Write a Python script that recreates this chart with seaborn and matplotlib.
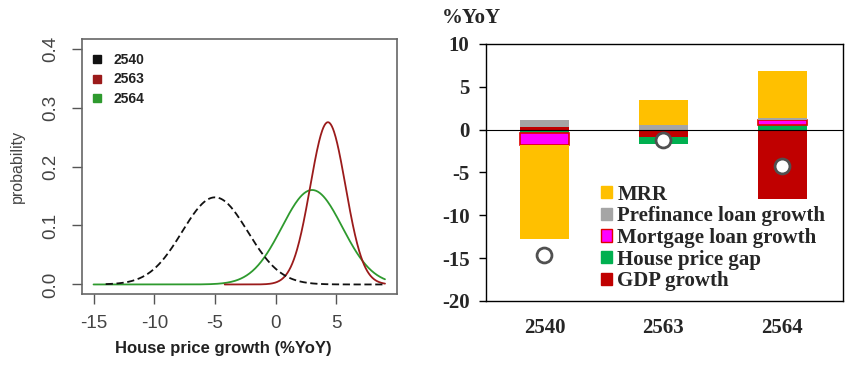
import numpy as np
import pandas as pd
import matplotlib
matplotlib.use("Agg")
import matplotlib.pyplot as plt
from matplotlib.patches import Patch
from matplotlib.lines import Line2D
import seaborn as sns

sns.set_style("white")
plt.rcParams["font.family"] = ["Liberation Sans", "DejaVu Sans"]
plt.rcParams["axes.unicode_minus"] = False

# left panel: normal densities (peak position / height)
years = ["2540", "2563", "2564"]
dens_mean = [-5.0, 4.3, 3.0]
dens_sd = [2.70, 1.45, 2.49]
dens_start = [-14.0, -4.2, -15.0]
dens_end = [9.0, 9.0, 9.0]
dens_colors = ["#111111", "#9B1B1B", "#2E9A2E"]
dens_styles = [(4, 2), "", ""]

# right panel: contributions (%YoY)
categories = ["2540", "2563", "2564"]
gdp_growth = [0.3, -0.85, -8.1]
house_price_gap = [-0.43, -0.85, 0.55]
mortgage_growth = [-1.4, 0.0, 0.55]
prefinance_growth = [0.8, 0.5, 0.2]
mrr = [-10.9, 2.95, 5.5]
actual = [-14.6, -1.24, -4.25]

fig = plt.figure(figsize=(8.53, 3.66), dpi=100)

################ density plot ################
ax1 = fig.add_axes([0.096, 0.197, 0.369, 0.696])
rows = []
for i, y in enumerate(years):
    x = np.linspace(dens_start[i], dens_end[i], 300)
    p = np.exp(-0.5 * ((x - dens_mean[i]) / dens_sd[i]) ** 2) / (dens_sd[i] * np.sqrt(2 * np.pi))
    rows.append(pd.DataFrame({"x": x, "p": p, "year": y}))
df = pd.concat(rows)

# draw green, then red, then black on top
for i in [2, 1, 0]:
    sub = df[df["year"] == years[i]]
    ls = (0, dens_styles[i]) if dens_styles[i] else "-"
    sns.lineplot(data=sub, x="x", y="p", ax=ax1, color=dens_colors[i],
                 linestyle=ls, linewidth=1.3, legend=False)

ax1.set_xlim(-15.96, 9.96)
ax1.set_ylim(-0.016, 0.416)
ax1.set_xticks([-15, -10, -5, 0, 5])
ax1.set_yticks([0.0, 0.1, 0.2, 0.3, 0.4])
ax1.set_yticklabels(["0.0", "0.1", "0.2", "0.3", "0.4"], rotation=90, va="center")
ax1.tick_params(axis="both", direction="out", length=7, width=1, color="#555555",
                labelcolor="#444444", labelsize=13.5, left=True, bottom=True)
ax1.tick_params(axis="x", pad=8)
ax1.tick_params(axis="y", pad=9)
for s in ax1.spines.values():
    s.set_color("#666666")
    s.set_linewidth(1.2)
ax1.set_xlabel("House price growth (%YoY)", fontsize=12, fontweight="bold",
               color="#222222", labelpad=2)
ax1.xaxis.set_label_coords(0.45, -0.185)
ax1.set_ylabel("probability", fontsize=11.5, color="#444444", labelpad=12.5)

handles = [Line2D([], [], marker="s", linestyle="", color=c, markersize=5.5) for c in dens_colors]
leg1 = ax1.legend(handles, years, loc="upper left", bbox_to_anchor=(-0.015, 0.995),
                  frameon=False, prop={"weight": "bold", "size": 10},
                  handletextpad=0.7, labelspacing=0.4, handlelength=1.0)
for t in leg1.get_texts():
    t.set_color("#222222")

################ stacked bar contributions ################
ax2 = fig.add_axes([0.570, 0.178, 0.418, 0.702])
series = [
    ("GDP growth", gdp_growth, "#C00000", "none"),
    ("House price gap", house_price_gap, "#00B050", "none"),
    ("Mortgage loan growth", mortgage_growth, "#FF00FF", "#E00000"),
    ("Prefinance loan growth", prefinance_growth, "#A5A5A5", "none"),
    ("MRR", mrr, "#FFC000", "none"),
]
xpos = np.arange(len(categories))
pos_base = np.zeros(len(categories))
neg_base = np.zeros(len(categories))
for name, vals, col, ec in series:
    vals = np.array(vals)
    bottom = np.where(vals >= 0, pos_base, neg_base)
    keep = vals != 0
    ax2.bar(xpos[keep], vals[keep], width=0.41, bottom=bottom[keep], color=col,
            edgecolor=ec, linewidth=1.2 if ec != "none" else 0, zorder=2)
    pos_base = pos_base + np.where(vals >= 0, vals, 0)
    neg_base = neg_base + np.where(vals < 0, vals, 0)

ax2.axhline(0, color="black", linewidth=0.8, zorder=3)
sns.scatterplot(x=xpos, y=actual, ax=ax2, s=115, color="white",
                edgecolor="#505050", linewidth=2, zorder=4, legend=False)

ax2.set_xlim(-0.49, 2.51)
ax2.set_ylim(-20, 10)
ax2.set_yticks([-20, -15, -10, -5, 0, 5, 10])
ax2.set_xticks(xpos)
ax2.set_xticklabels(categories)
serif = {"family": "Liberation Serif", "weight": "bold", "size": 15}
for lab in ax2.get_xticklabels() + ax2.get_yticklabels():
    lab.set_fontproperties(serif)
ax2.tick_params(axis="x", length=0, pad=12)
ax2.tick_params(axis="y", direction="out", length=5, width=1, color="black", left=True, pad=7)
for s in ax2.spines.values():
    s.set_color("black")
    s.set_linewidth(1)
fig.text(0.518, 0.952, "%YoY", fontdict=serif, ha="left", va="center")

leg_handles = [Patch(facecolor=c, edgecolor=ec if ec != "none" else c, linewidth=1)
               for name, v, c, ec in reversed(series)]
leg_labels = [name for name, v, c, ec in reversed(series)]
ax2.legend(leg_handles, leg_labels, loc="upper left", bbox_to_anchor=(0.298, 0.485),
           frameon=False, prop=serif, handlelength=0.55, handleheight=0.55,
           handletextpad=0.25, labelspacing=0.08, borderaxespad=0)

fig.savefig("out.png", dpi=100)
